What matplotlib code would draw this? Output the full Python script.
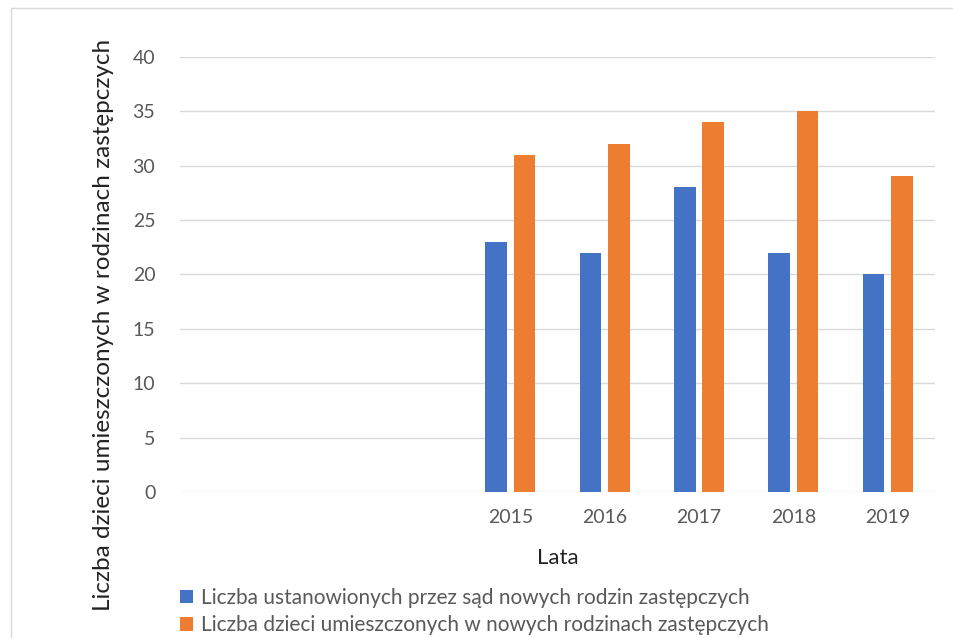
import matplotlib.pyplot as plt
import numpy as np

years = ['2015', '2016', '2017', '2018', '2019']
rodziny = [23, 22, 28, 22, 20]
dzieci = [31, 32, 34, 35, 29]

blue = '#4472c4'
orange = '#ed7d31'
grey = '#595959'

plt.rcParams['font.family'] = ['Lato', 'DejaVu Sans']

fig = plt.figure(figsize=(9.54, 6.38), dpi=100)
# light frame around the chart
fig.patches.append(plt.Rectangle((0.012, -0.01), 0.99, 0.998, transform=fig.transFigure,
                                 fill=False, edgecolor='#d9d9d9', linewidth=1))
ax = fig.add_axes([0.189, 0.229, 0.791, 0.682])

# the category axis has 3 empty slots before the first year
empty = 3
x = np.arange(len(years)) + empty
w = 0.23
gap = 0.035
ax.bar(x - w / 2 - gap, rodziny, w, color=blue, zorder=3,
       label='Liczba ustanowionych przez sąd nowych rodzin zastępczych')
ax.bar(x + w / 2 + gap, dzieci, w, color=orange, zorder=3,
       label='Liczba dzieci umieszczonych w nowych rodzinach zastępczych')

ax.set_xlim(-0.5, len(years) + empty - 0.5)
ax.set_ylim(0, 40)
ax.set_yticks(range(0, 41, 5))
ax.set_xticks(x)
ax.set_xticklabels(years)
ax.grid(axis='y', color='#d9d9d9', linewidth=1, zorder=0)
for s in ax.spines.values():
    s.set_visible(False)
ax.tick_params(axis='both', length=0, labelsize=14, labelcolor=grey)
ax.tick_params(axis='y', pad=18)
ax.tick_params(axis='x', pad=12)

ax.set_xlabel('Lata', fontsize=16, color='#222222', labelpad=16)
fig.text(0.108, 0.49, 'Liczba dzieci umieszczonych w rodzinach zastępczych',
         rotation=90, fontsize=17.5, color='#222222', ha='center', va='center')

ax.legend(loc='upper left', bbox_to_anchor=(-0.025, -0.178), frameon=False,
          fontsize=15, labelcolor=grey, handlelength=0.6, handleheight=0.6,
          handletextpad=0.4, labelspacing=0.35)

fig.savefig('out.png', dpi=100)
